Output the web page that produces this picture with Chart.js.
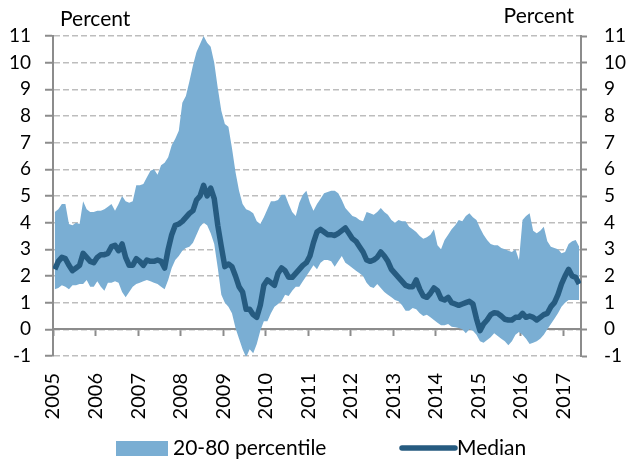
<!DOCTYPE html>
<html>
<head>
<meta charset="utf-8">
<script src="https://cdn.jsdelivr.net/npm/chart.js@4.4.0/dist/chart.umd.min.js"></script>
<style>
  body { margin: 0; background: #fff; }
</style>
</head>
<body>
<canvas id="chart" width="628" height="461"></canvas>
<script>
// monthly data, Jan 2005 - May 2017
const years = [2005, 2006, 2007, 2008, 2009, 2010, 2011, 2012, 2013, 2014, 2015, 2016, 2017];

const upper = [
  4.4, 4.5, 4.7, 4.7, 3.95, 3.9, 4.0, 3.95, 4.8, 4.5, 4.4, 4.4,
  4.45, 4.45, 4.5, 4.6, 4.7, 4.45, 4.7, 5.0, 4.8, 4.75, 4.8, 5.4,
  5.4, 5.45, 5.7, 5.95, 6.0, 5.8, 6.15, 6.25, 6.45, 6.9, 7.15, 7.45,
  8.5, 8.75, 9.3, 9.9, 10.4, 10.7, 11.0, 10.75, 10.6, 10.0, 9.05, 8.2,
  7.7, 7.6, 6.8, 5.9, 5.2, 4.7, 4.5, 4.45, 4.35, 4.05, 3.95, 4.2,
  4.5, 4.8, 4.8, 4.85, 5.05, 5.05, 4.7, 4.4, 4.25, 4.75, 5.05, 5.2,
  4.75, 4.45, 4.7, 4.9, 5.1, 5.15, 5.2, 5.2, 5.1, 4.85, 4.55, 4.4,
  4.25, 4.2, 4.1, 4.05, 4.4, 4.35, 4.3, 4.4, 4.55, 4.4, 4.3, 4.1,
  4.0, 4.1, 4.05, 4.05, 3.85, 3.75, 3.65, 3.5, 3.4, 3.45, 3.55, 3.75,
  3.15, 3.0, 3.35, 3.55, 3.75, 3.9, 4.1, 4.05, 4.25, 4.35, 4.2, 4.1,
  3.8, 3.55, 3.35, 3.2, 3.15, 3.15, 3.05, 3.0, 2.95, 2.9, 3.0, 2.6,
  4.1, 4.25, 4.35, 3.7, 3.6, 3.7, 3.85, 3.3, 3.1, 3.05, 3.0, 2.85,
  2.9, 3.2, 3.3, 3.35, 3.1
];

const lower = [
  1.5, 1.55, 1.65, 1.6, 1.5, 1.65, 1.65, 1.7, 1.7, 1.85, 1.6, 1.6,
  1.8, 1.6, 1.45, 1.75, 1.75, 1.8, 1.75, 1.4, 1.2, 1.4, 1.6, 1.7,
  1.75, 1.8, 1.85, 1.8, 1.75, 1.7, 1.6, 1.5, 1.85, 2.3, 2.6, 2.75,
  2.95, 3.05, 3.1, 3.25, 3.55, 3.85, 4.0, 3.9, 3.6, 3.2, 2.3, 1.3,
  1.0, 0.85, 0.6, 0.05, -0.35, -0.75, -1.05, -0.75, -0.9, -0.55, -0.05, 0.3,
  0.3, 0.6, 0.85, 0.95, 1.05, 1.3, 1.25, 1.45, 1.6, 1.6, 1.8, 2.0,
  2.2, 2.4, 2.25, 2.5, 2.6, 2.6, 2.55, 2.35, 2.55, 2.75, 2.5, 2.4,
  2.3, 2.2, 2.1, 2.0, 1.75, 1.6, 1.55, 1.7, 1.55, 1.4, 1.3, 1.2,
  1.1, 1.05, 0.9, 0.7, 0.7, 0.8, 0.75, 0.6, 0.5, 0.55, 0.45, 0.35,
  0.25, 0.15, 0.15, 0.2, 0.1, 0.08, 0.05, 0.0, -0.15, 0.0, -0.05, -0.2,
  -0.45, -0.5, -0.4, -0.3, -0.15, -0.25, -0.35, -0.45, -0.6, -0.45, -0.2, -0.1,
  -0.2, -0.35, -0.55, -0.5, -0.45, -0.35, -0.2, 0.0, 0.2, 0.4, 0.6, 0.85,
  1.0, 1.1, 1.1, 1.1, 1.1
];

const median = [
  2.25, 2.55, 2.7, 2.65, 2.4, 2.2, 2.3, 2.4, 2.85, 2.7, 2.55, 2.5,
  2.7, 2.8, 2.8, 2.85, 3.1, 3.15, 2.95, 3.2, 2.7, 2.4, 2.4, 2.65,
  2.55, 2.4, 2.6, 2.55, 2.55, 2.6, 2.55, 2.3, 3.0, 3.55, 3.9, 3.95,
  4.05, 4.2, 4.35, 4.45, 4.85, 5.0, 5.4, 5.0, 5.3, 4.9, 3.9, 3.1,
  2.35, 2.45, 2.35, 2.0, 1.6, 1.4, 0.75, 0.75, 0.55, 0.45, 0.9, 1.65,
  1.85, 1.75, 1.65, 2.1, 2.3, 2.2, 1.95, 1.95, 2.1, 2.25, 2.4, 2.5,
  2.75, 3.25, 3.65, 3.75, 3.65, 3.55, 3.55, 3.52, 3.6, 3.7, 3.8, 3.6,
  3.4, 3.3, 3.1, 2.9, 2.6, 2.55, 2.6, 2.7, 2.9, 2.75, 2.55, 2.25,
  2.1, 1.95, 1.8, 1.65, 1.6, 1.6, 1.85, 1.5, 1.25, 1.2, 1.35, 1.55,
  1.45, 1.15, 1.1, 1.2, 1.0, 0.95, 0.9, 0.95, 1.0, 1.05, 0.95, 0.4,
  -0.05, 0.2, 0.35, 0.55, 0.62, 0.6, 0.5, 0.38, 0.35, 0.35, 0.45, 0.45,
  0.6, 0.45, 0.5, 0.45, 0.35, 0.45, 0.55, 0.6, 0.85, 1.0, 1.3, 1.7,
  2.0, 2.25, 2.0, 1.95, 1.7
];

const bandColor = "#7aaed3";
const medianColor = "#265b80";
const axisColor = "#8c8c8c";
const gridColor = "#bdbdbd";
const fontFamily = "Lato, 'Open Sans', sans-serif";

Chart.defaults.font.family = fontFamily;
Chart.defaults.font.size = 19;
Chart.defaults.color = "#000";

// months sit between the yearly tick marks
function toPoints(values) {
  return values.map((v, i) => ({ x: i + 0.5, y: v }));
}

// "Percent" captions and the legend row
const extraText = {
  id: "extraText",
  afterDraw(chart) {
    const ctx = chart.ctx;
    ctx.save();
    ctx.font = `21px ${fontFamily}`;
    ctx.fillStyle = "#000";
    ctx.textBaseline = "middle";
    ctx.textAlign = "left";
    ctx.fillText("Percent", 60, 19);
    ctx.textAlign = "right";
    ctx.fillText("Percent", 574, 16);

    ctx.textAlign = "left";
    ctx.fillStyle = bandColor;
    ctx.fillRect(116, 441, 52, 15);
    ctx.fillStyle = "#000";
    ctx.fillText("20-80 percentile", 173, 448);

    ctx.strokeStyle = medianColor;
    ctx.lineWidth = 5.5;
    ctx.lineCap = "round";
    ctx.beginPath();
    ctx.moveTo(402, 448);
    ctx.lineTo(455, 448);
    ctx.stroke();
    ctx.fillText("Median", 457, 448);
    ctx.restore();
  },
};

new Chart(document.getElementById("chart"), {
  type: "line",
  data: {
    datasets: [
      {
        label: "Median",
        data: toPoints(median),
        borderColor: medianColor,
        borderWidth: 5.5,
        borderJoinStyle: "round",
        pointRadius: 0,
        fill: false,
        xAxisID: "x",
        yAxisID: "y",
      },
      {
        label: "20-80 percentile",
        data: toPoints(upper),
        borderWidth: 0,
        borderColor: "rgba(0,0,0,0)",
        backgroundColor: bandColor,
        pointRadius: 0,
        fill: "+1",
        xAxisID: "x",
        yAxisID: "y",
      },
      {
        label: "lower",
        data: toPoints(lower),
        borderWidth: 0,
        borderColor: "rgba(0,0,0,0)",
        pointRadius: 0,
        fill: false,
        xAxisID: "x",
        yAxisID: "y",
      },
    ],
  },
  options: {
    responsive: false,
    animation: false,
    devicePixelRatio: 1,
    layout: { padding: { top: 36, left: 0, right: 0, bottom: 0 } },
    plugins: {
      legend: { display: false },
      tooltip: { enabled: false },
    },
    scales: {
      x: {
        type: "linear",
        min: 0,
        max: 149,
        grid: { display: false, drawTicks: false },
        border: { display: false },
        ticks: {
          stepSize: 12,
          includeBounds: false,
          autoSkip: false,
          minRotation: 90,
          maxRotation: 90,
          padding: 17,
          font: { size: 20 },
          callback: (v) => years[v / 12],
        },
        afterFit: (s) => { s.height = 105; },
      },
      x0: {
        type: "linear",
        position: { y: 0 },
        min: 0,
        max: 149,
        ticks: { display: false, stepSize: 12, includeBounds: false },
        grid: { drawOnChartArea: false, tickLength: 6, tickColor: axisColor, tickWidth: 2 },
        border: { color: axisColor, width: 2 },
      },
      y: {
        position: "left",
        min: -1,
        max: 11,
        ticks: { stepSize: 1, padding: 14 },
        grid: { color: gridColor, lineWidth: 1.5, tickLength: 8, tickColor: axisColor, tickWidth: 2 },
        border: { color: axisColor, width: 2, dash: [6, 3] },
        afterFit: (s) => { s.width = 53; },
      },
      y2: {
        position: "right",
        min: -1,
        max: 11,
        ticks: { stepSize: 1, padding: 17 },
        grid: { drawOnChartArea: false, tickLength: 6, tickColor: axisColor, tickWidth: 2 },
        border: { color: axisColor, width: 2 },
        afterFit: (s) => { s.width = 47; },
      },
    },
  },
  plugins: [extraText],
});
</script>
</body>
</html>
